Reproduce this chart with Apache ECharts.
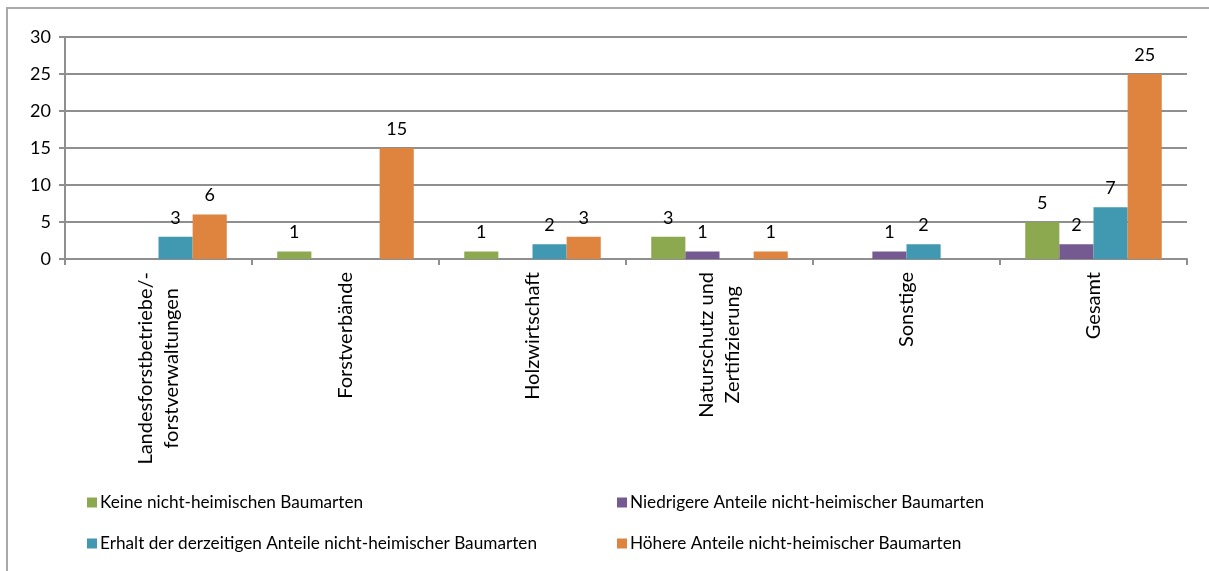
<!DOCTYPE html>
<html>
<head>
<meta charset="utf-8">
<script src="https://cdn.jsdelivr.net/npm/echarts@6/dist/echarts.min.js"></script>
<style>
  html, body { margin: 0; padding: 0; background: #fff; }
  #chart { width: 1209px; height: 571px; }
</style>
</head>
<body>
<div id="chart"></div>
<script>
var categories = [
    'Landesforstbetriebe/-\nforstverwaltungen',
    'Forstverbände',
    'Holzwirtschaft',
    'Naturschutz und\nZertifizierung',
    'Sonstige',
    'Gesamt'
];
var seriesNames = [
    'Keine nicht-heimischen Baumarten',
    'Niedrigere Anteile nicht-heimischer Baumarten',
    'Erhalt der derzeitigen Anteile nicht-heimischer Baumarten',
    'Höhere Anteile nicht-heimischer Baumarten'
];
var keine      = [0, 1, 1, 3, 0, 5];
var niedrigere = [0, 0, 0, 1, 1, 2];
var erhalt     = [3, 0, 2, 0, 2, 7];
var hoehere    = [6, 15, 3, 1, 0, 25];
var yTicks = [0, 5, 10, 15, 20, 25, 30];

var colors = ['#8da94f', '#755a92', '#4199b1', '#de843f'];
var font = 'Lato, "Open Sans", sans-serif';

window.onload = function () {
    var myChart = echarts.init(document.getElementById('chart'));

    function bar(name, data) {
        return {
            name: name,
            type: 'bar',
            barGap: 0,
            barCategoryGap: '27%',
            data: data,
            label: {
                show: true,
                position: 'top',
                distance: 10,
                color: '#000',
                fontFamily: font,
                fontSize: 18,
                // zeros get no label
                formatter: function (p) { return p.value === 0 ? '' : p.value; }
            }
        };
    }

    var legendText = { fontFamily: font, fontSize: 17.2, color: '#000', padding: [0, 0, 0, -2] };

    var option = {
        animation: false,
        color: colors,
        textStyle: { fontFamily: font },
        graphic: [{
            type: 'rect',
            shape: { x: 7, y: 8, width: 1300, height: 700 },
            style: { fill: 'none', stroke: '#a9a9a9', lineWidth: 2 },
            silent: true
        }],
        grid: {
            left: 65,
            top: 37,
            right: 22,
            bottom: 312
        },
        legend: [{
            orient: 'vertical',
            left: 82,
            top: 489,
            itemWidth: 10,
            itemHeight: 10,
            itemGap: 24,
            icon: 'rect',
            data: [seriesNames[0], seriesNames[2]],
            textStyle: legendText
        }, {
            orient: 'vertical',
            left: 612,
            top: 489,
            itemWidth: 10,
            itemHeight: 10,
            itemGap: 24,
            icon: 'rect',
            data: [seriesNames[1], seriesNames[3]],
            textStyle: legendText
        }],
        xAxis: {
            type: 'category',
            data: categories,
            axisLine: { lineStyle: { color: '#8f8f8f', width: 2 } },
            axisTick: { show: true, length: 6, lineStyle: { color: '#8f8f8f', width: 2 } },
            axisLabel: {
                rotate: 90,
                interval: 0,
                margin: 13,
                color: '#000',
                fontFamily: font,
                fontSize: 20,
                lineHeight: 26,
                formatter: function (v) {
                    return v.split('\n').map(function (s) { return '{c|' + s + '}'; }).join('\n');
                },
                rich: { c: { align: 'center', fontFamily: font, fontSize: 20, lineHeight: 26, color: '#000' } }
            }
        },
        yAxis: {
            type: 'value',
            min: yTicks[0],
            max: yTicks[yTicks.length - 1],
            interval: yTicks[1] - yTicks[0],
            axisLine: { show: true, lineStyle: { color: '#8f8f8f', width: 2 } },
            axisTick: { show: true, length: 6, lineStyle: { color: '#8f8f8f', width: 2 } },
            splitLine: { lineStyle: { color: '#8f8f8f', width: 2 } },
            axisLabel: {
                color: '#000',
                fontFamily: font,
                fontSize: 18,
                margin: 14
            }
        },
        series: [
            bar(seriesNames[0], keine),
            bar(seriesNames[1], niedrigere),
            bar(seriesNames[2], erhalt),
            bar(seriesNames[3], hoehere)
        ]
    };
    myChart.setOption(option, true);
};
</script>
</body>
</html>
